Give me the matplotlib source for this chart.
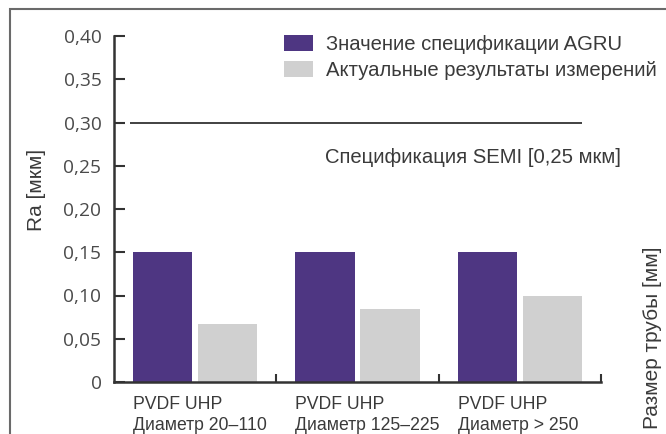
import matplotlib
matplotlib.use("Agg")
import matplotlib.pyplot as plt
import numpy as np
from matplotlib.patches import Rectangle

groups = ["PVDF UHP\nДиаметр 20–110", "PVDF UHP\nДиаметр 125–225", "PVDF UHP\nДиаметр > 250"]
spec_values = [0.15, 0.15, 0.15]
actual_values = [0.067, 0.084, 0.099]
semi_line = 0.30
yticks = [0, 0.05, 0.10, 0.15, 0.20, 0.25, 0.30, 0.35, 0.40]
ytick_labels = ["0", "0,05", "0,10", "0,15", "0,20", "0,25", "0,30", "0,35", "0,40"]
legend_labels = ["Значение спецификации AGRU", "Актуальные результаты измерений"]
semi_text = "Спецификация SEMI [0,25 мкм]"
ylabel = "Ra [мкм]"
xlabel_right = "Размер трубы [мм]"

PURPLE = "#4e3682"
GRAY = "#d0d0d0"
TXT = "#3a3a3a"
W, H = 666, 434
FS = 14.6

fig = plt.figure(figsize=(6.66, 4.34), dpi=100)
fig.patch.set_facecolor("white")
# outer frame (extends beyond right/bottom edges)
fig.patches.append(Rectangle((10 / W, -0.1), 1.2, 1 - 8.5 / H + 0.1, transform=fig.transFigure,
                             fill=False, edgecolor="#6a6a6a", linewidth=1.5))

ax = fig.add_axes([114 / W, 1 - 382 / H, (601 - 114) / W, (382 - 36) / H])
x = np.arange(len(groups)) + 0.5
bw = 0.364
off = 0.2
b1 = ax.bar(x - off, spec_values, width=bw, color=PURPLE, label=legend_labels[0])
b2 = ax.bar(x + off, actual_values, width=bw, color=GRAY, label=legend_labels[1])

ax.hlines(semi_line, 0.1, 2.88, color="#333333", linewidth=1.3)

ax.set_xlim(0, 3)
ax.set_ylim(0, 0.40)
ax.set_yticks(yticks)
ax.set_yticklabels(ytick_labels, fontfamily="Open Sans", fontsize=13.8, color="#4a4a4a")
ax.set_xticks([1, 2, 3])
ax.set_xticklabels([])
ax.tick_params(axis="y", direction="in", length=8, width=1.5, color="#333333", pad=9)
ax.tick_params(axis="x", direction="in", length=6, width=1.5, color="#333333")
for s in ["top", "right"]:
    ax.spines[s].set_visible(False)
for s in ["left", "bottom"]:
    ax.spines[s].set_color("#333333")
    ax.spines[s].set_linewidth(1.8)

for i, g in enumerate(groups):
    ax.text(i + 0.118, -0.016, g, ha="left", va="top", fontfamily="Liberation Sans",
            fontsize=12.7, color=TXT, linespacing=1.32)

ax.text(1.30, 0.259, semi_text, ha="left", va="center", fontfamily="Liberation Sans",
        fontsize=FS, color=TXT)

leg = ax.legend(handles=[b1, b2], loc="upper left", bbox_to_anchor=((284 - 114) / 487, 1.0 + 1 / 346),
                frameon=False, prop={"family": "Liberation Sans", "size": FS},
                handlelength=1.43, handleheight=0.84, handletextpad=0.64, labelspacing=0.36,
                labelcolor=TXT, borderaxespad=0, borderpad=0)

fig.text(36 / W, 1 - 190 / H, ylabel, rotation=90, ha="center", va="center",
         fontfamily="Liberation Sans", fontsize=15, color=TXT)
fig.text(653 / W, 1 - 338 / H, xlabel_right, rotation=90, ha="center", va="center",
         fontfamily="Liberation Sans", fontsize=15, color=TXT)

fig.savefig("out.png", dpi=100, facecolor="white")
